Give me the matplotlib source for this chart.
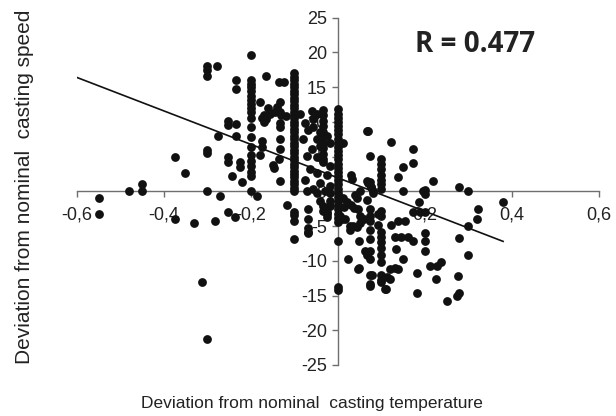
import matplotlib
matplotlib.use("Agg")
import matplotlib.pyplot as plt

plt.rcParams["font.family"] = ["Liberation Sans", "DejaVu Sans"]
plt.rcParams["axes.unicode_minus"] = False

# --- data ---
# deviation from nominal casting temperature (x) / casting speed (y)
temp_dev = [
    # far left
    -0.55, -0.55, -0.48, -0.45, -0.45, -0.375, -0.375, -0.352, -0.33,
    -0.30, -0.30, -0.30, -0.30, -0.30, -0.30, -0.313, -0.30,
    -0.278, -0.276, -0.27, -0.283,
    -0.253, -0.253, -0.253, -0.253, -0.253, -0.243, -0.237,
    -0.235, -0.235, -0.235, -0.234, -0.225, -0.225, -0.22,
    # column at -0.2
    -0.2, -0.2, -0.2, -0.2, -0.2, -0.2, -0.2, -0.2, -0.2, -0.2,
    -0.2, -0.2, -0.2, -0.2, -0.2, -0.2, -0.2, -0.2, -0.2, -0.2,
    -0.186, -0.175, -0.175, -0.178, -0.18, -0.166,
    -0.17, -0.165, -0.155, -0.145, -0.16, -0.14, -0.13, -0.17, -0.175,
    -0.15, -0.148, -0.135, -0.125,
    -0.133, -0.133, -0.133, -0.133, -0.133, -0.133, -0.133,
    -0.12, -0.117, -0.135,
    # column at -0.1
    -0.1, -0.1, -0.1, -0.1, -0.1, -0.1, -0.1, -0.1, -0.1, -0.1,
    -0.1, -0.1, -0.1, -0.1, -0.1, -0.1, -0.1, -0.1, -0.1, -0.1,
    -0.1, -0.1, -0.1, -0.1, -0.1, -0.1, -0.1, -0.1, -0.1, -0.1,
    -0.1, -0.1, -0.1, -0.1, -0.1, -0.1, -0.1, -0.1, -0.1,
    # between -0.1 and 0, above axis
    -0.086, -0.06, -0.049, -0.034, -0.057, -0.076, -0.069, -0.057, -0.041,
    -0.08, -0.049, -0.026, -0.06, -0.041, -0.018, -0.072, -0.049, -0.034,
    -0.018, -0.064, -0.049, -0.026, -0.076, -0.041, -0.018, -0.057, -0.03,
    -0.072,
    -0.035, -0.035, -0.035, -0.035, -0.035, -0.035, -0.035, -0.035, -0.035,
    # between -0.1 and 0, below axis
    -0.068, -0.068, -0.068, -0.069, -0.069, -0.034, -0.026, -0.034, -0.041,
    -0.049, -0.018, -0.018, -0.018, -0.025, -0.025,
    # column at 0
    0.0, 0.0, 0.0, 0.0, 0.0, 0.0, 0.0, 0.0, 0.0, 0.0,
    0.0, 0.0, 0.0, 0.0, 0.0, 0.0, 0.0, 0.0, 0.0, 0.0,
    0.0, 0.0, 0.0, 0.0, 0.0, 0.0, 0.0, 0.0, 0.0, 0.0, 0.0,
    # 0 to 0.1, above axis
    0.012, 0.031, 0.032, 0.05, 0.067, 0.07, 0.081, 0.069, 0.074, 0.077,
    0.074, 0.077, 0.08,
    # 0 to 0.1, below axis
    0.012, 0.015, 0.01, 0.005, 0.016, 0.024, 0.049, 0.049, 0.047, 0.074,
    0.079, 0.062, 0.066, 0.068, 0.02, 0.03, 0.038, 0.046, 0.028, 0.05,
    0.06, 0.05, 0.074, 0.028, 0.035, 0.044, 0.04, 0.043,
    0.075, 0.075, 0.075, 0.075, 0.075, 0.075, 0.075, 0.075, 0.093, 0.093,
    # column at 0.1
    0.1, 0.1, 0.1, 0.1, 0.1, 0.1, 0.1,
    0.1, 0.1, 0.1, 0.1, 0.1, 0.1, 0.1, 0.1, 0.1, 0.1, 0.1,
    # right, above axis
    0.067, 0.123, 0.173, 0.173, 0.149, 0.139, 0.15, 0.2, 0.2, 0.219,
    0.278, 0.3,
    # right, below axis
    0.123, 0.139, 0.154, 0.131, 0.146, 0.161, 0.172, 0.2, 0.2, 0.2,
    0.2, 0.189, 0.172, 0.133, 0.15, 0.12, 0.131, 0.138, 0.112, 0.108,
    0.11, 0.12, 0.181, 0.181, 0.211, 0.227, 0.238, 0.225, 0.25, 0.277,
    0.279, 0.274, 0.279, 0.3, 0.3, 0.319, 0.322, 0.187, 0.38, 0.195,
]
speed_dev = [
    -1.0, -3.2, 0.0, 1.1, 0.0, 5.0, -4.0, 2.6, -4.6,
    0.0, 6.0, 5.5, 18.0, 17.5, 16.6, -13.0, -21.2,
    18.1, 8.0, -0.6, -4.2,
    10.2, 9.6, 5.0, 4.2, -3.0, 2.2, -3.7,
    16.1, 14.7, 9.7, 8.0, 4.2, 3.5, 1.4,
    19.7, 16.1, 15.5, 15.0, 14.4, 13.8, 13.2, 12.6, 12.0, 11.4,
    10.6, 9.2, 7.8, 6.4, 5.2, 4.4, 3.6, 2.8, 2.2, 0.0,
    -0.6, 7.2, 6.4, 5.3, 12.8, 16.6,
    11.0, 10.4, 11.2, 11.5, 12.0, 12.2, 11.0, 10.0, 10.6,
    3.8, 3.3, 15.7, 15.7,
    12.8, 11.5, 9.9, 9.2, 7.6, 6.1, 1.5,
    10.8, -2.0, 4.6,
    17.1, 16.5, 16.0, 15.5, 15.0, 14.5, 14.0, 13.5, 13.0, 12.5,
    12.0, 11.5, 11.0, 10.5, 10.0, 9.5, 9.0, 8.5, 8.0, 7.5,
    7.0, 6.5, 6.0, 5.5, 5.0, 4.5, 4.0, 3.5, 3.0, 2.5,
    2.0, 1.5, 1.0, 0.5, 0.0, -2.9, -3.4, -4.3, -6.8,
    11.1, 11.6, 11.1, 11.7, 10.4, 9.9, 8.9, 9.2, 8.5,
    7.5, 7.5, 8.0, 6.1, 6.5, 7.0, 5.1, 4.9, 4.2,
    3.6, 3.2, 2.7, 2.4, 1.7, 1.2, 0.8, 0.3, 0.0,
    0.0,
    11.0, 10.2, 9.4, 8.6, 7.8, 7.0, 6.2, 5.4, 4.6,
    -2.6, -4.0, -5.9, -5.3, -6.0, -2.8, -3.3, -2.1, -1.4,
    -0.2, -0.2, -1.4, -2.1, -3.0, -3.7,
    11.8, 11.2, 10.6, 10.0, 9.4, 8.8, 8.2, 7.6, 7.0, 6.4,
    5.8, 5.2, 4.6, 4.0, 3.4, 2.8, 2.2, 1.6, 1.0, 0.4,
    -0.2, -0.8, -1.4, -2.0, -2.6, -3.2, -3.8, -4.4, -7.2, -13.7, -14.2,
    7.0, 2.4, 1.8, 0.0, 1.5, 1.2, -0.2, 8.7, 5.1, 0.6,
    1.4, 0.6, 0.0,
    -1.0, -2.2, -4.0, -3.5, -4.0, -9.8, -7.2, -11.1, -11.2, -13.6,
    -12.1, -8.6, -9.1, -1.2, -1.5, -2.0, -2.4, -2.6, -5.0, -3.5,
    -4.0, -4.5, -3.6, -5.5, -5.0, -5.2, -0.5, -1.0,
    -2.6, -4.3, -5.5, -6.9, -8.6, -9.8, -12.0, -13.4, -3.3, -4.8,
    4.6, 3.9, 3.2, 2.4, 1.7, 1.0, 0.3,
    -2.8, -3.6, -5.9, -6.6, -7.3, -8.1, -9.1, -10.1, -12.0, -12.7, -13.0,
    8.7, 7.1, 6.1, 4.1, 3.5, 2.0, 0.0, 0.2, -0.4, 1.5,
    0.6, 0.0,
    -4.8, -4.3, -4.3, -6.6, -6.6, -6.6, -7.2, -6.0, -7.2, -8.6,
    -3.0, -3.0, -3.0, -8.3, -9.7, -11.2, -11.0, -11.2, -12.4, -14.1,
    -14.0, -12.6, -11.7, -14.6, -10.8, -10.8, -10.2, -12.6, -15.8, -12.2,
    -14.6, -15.1, -6.7, -9.1, -5.0, -4.0, -2.6, -1.6, -1.6, 0.0,
]

# regression line end points
fit_x = [-0.6, 0.38]
fit_y = [16.4, -7.2]

x_ticks = [-0.6, -0.4, -0.2, 0.2, 0.4, 0.6]
x_tick_labels = ["-0,6", "-0,4", "-0,2", "0,2", "0,4", "0,6"]
y_ticks = [-25, -20, -15, -10, -5, 0, 5, 10, 15, 20, 25]
r_label = "R = 0.477"

n = min(len(temp_dev), len(speed_dev))

fig = plt.figure(figsize=(6.16, 4.16), dpi=100)
ax = fig.add_axes([0.125, 0.1226, 0.847, 0.8347])

ax.scatter(temp_dev[:n], speed_dev[:n], s=40, color="#111111",
           linewidths=0, zorder=3)
ax.plot(fit_x, fit_y, color="#111111", linewidth=1.2, zorder=4)

ax.set_xlim(-0.6, 0.6)
ax.set_ylim(-25, 25)

# axes crossing at the origin
for side in ["top", "right"]:
    ax.spines[side].set_visible(False)
ax.spines["left"].set_position(("data", 0))
ax.spines["bottom"].set_position(("data", 0))
for side in ["left", "bottom"]:
    ax.spines[side].set_color("#6f6f6f")
    ax.spines[side].set_linewidth(1.0)

ax.set_xticks(x_ticks)
ax.set_xticklabels(x_tick_labels)
ax.set_yticks(y_ticks)
ax.tick_params(axis="both", direction="out", length=4, width=1,
               color="#6f6f6f", labelsize=13, labelcolor="#222222")
ax.tick_params(axis="x", pad=7)
ax.tick_params(axis="y", pad=4)

fig.text(0.04, 0.55, "Deviation from nominal  casting speed",
         rotation=90, ha="center", va="center", fontsize=15, color="#222222")
fig.text(0.506, 0.029, "Deviation from nominal  casting temperature",
         ha="center", va="center", fontsize=12.5, color="#222222")
fig.text(0.771, 0.894, r_label, ha="center", va="center",
         fontsize=20, fontweight="bold", color="#222222",
         family=["Open Sans", "DejaVu Sans"])

fig.savefig("out.png", dpi=100)
